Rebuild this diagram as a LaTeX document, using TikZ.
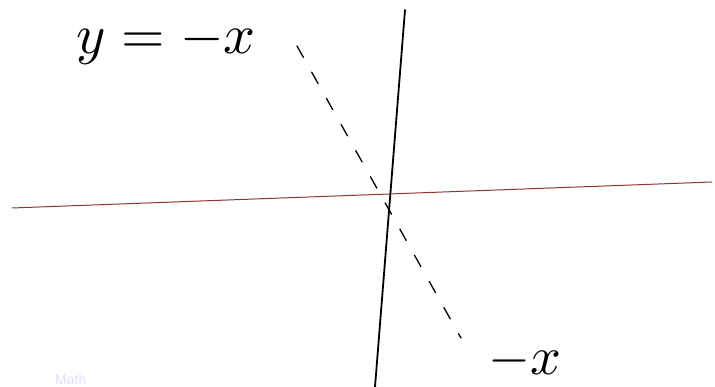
\documentclass[tikz,border=0pt]{standalone}
\usepackage{fontspec}
\setsansfont{Liberation Sans}
\begin{document}
\begin{tikzpicture}[x=1pt,y=-1pt,
  axisline/.style={line width=1.8pt,line cap=round},
  hline/.style={line width=1pt,color=red!45!black!80,line cap=round},
  dashline/.style={line width=1.3pt,dash pattern=on 13pt off 17pt,line cap=round},
  hand/.style={inner sep=0pt}]
\useasboundingbox (0,0) rectangle (715,387);
\fill[white] (0,0) rectangle (715,387);
% watermark
\node[anchor=south west,inner sep=0pt,text=blue!12,font=\sffamily\fontsize{14}{14}\selectfont] (wm) at (55,385) {Math};
% axes
\coordinate (hl) at (12,208);
\coordinate (hr) at (712,182);
\coordinate (vt) at (405,10);
\coordinate (vb) at (375,387);
\draw[hline] (hl) -- (hr);
\draw[axisline] (vt) -- (vb);
% dashed line y=-x
\coordinate (dt) at (297,46);
\coordinate (db) at (461,338);
\draw[dashline] (dt) -- (db);
% labels
\node[hand,anchor=base west] (lab1) at (76,54) {\scalebox{5.6}{$y = -x$}};
\node[hand,anchor=base west] (lab2) at (488,374) {\scalebox{5.4}{$-x$}};
\end{tikzpicture}
\end{document}
